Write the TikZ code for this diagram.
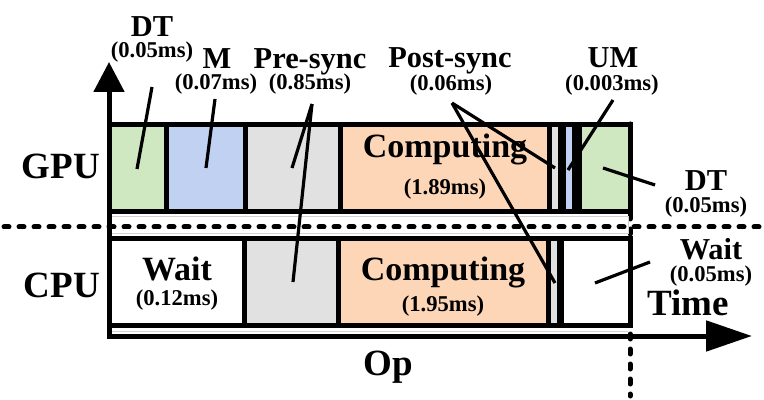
\documentclass[tikz,border=0pt]{standalone}
\usepackage{fontspec}
\setmainfont{Liberation Serif}
\usepackage{tikz}
\usetikzlibrary{arrows.meta}

\definecolor{dtgreen}{HTML}{D0E8C2}
\definecolor{mblue}{HTML}{C0D1F2}
\definecolor{syncgray}{HTML}{E1E1E1}
\definecolor{comporange}{HTML}{FCD6B6}

\newcommand{\axfont}{\fontsize{18.5}{20}\selectfont\bfseries}
\newcommand{\bigfont}{\fontsize{17}{18}\selectfont\bfseries}
\newcommand{\lblfont}{\fontsize{15.2}{16}\selectfont\bfseries}
\newcommand{\valfont}{\fontsize{11.3}{12}\selectfont\bfseries}

\begin{document}
\begin{tikzpicture}[x=0.5pt, y=-0.5pt,
    blk/.style={rectangle, draw, line width=2.5pt, minimum height=43.5pt, inner sep=0pt, outer sep=0pt},
    lead/.style={line width=1.6pt},
    axlab/.style={anchor=base, inner sep=0pt, font=\axfont},
    big/.style={anchor=base, inner sep=0pt, font=\bigfont},
    lbl/.style={anchor=base, inner sep=0pt, font=\lblfont},
    val/.style={anchor=base, inner sep=0pt, font=\valfont},
    dots/.style={line width=2.5pt, line cap=round, dash pattern=on 2.5pt off 5pt}]
    \useasboundingbox (0,0) rectangle (764,400);

    % Points
    \coordinate (origin) at (109,336);
    \coordinate (ytip) at (109,62);
    \coordinate (xtip) at (752,336);
    \coordinate (endtop) at (630,124);
    \coordinate (endbot) at (630,396);
    \coordinate (sepl) at (4,227);
    \coordinate (sepr) at (764,227);

    % End of run, and the line between GPU and CPU
    \draw[dots] (endtop) -- (endbot);
    \draw[gray!35, line width=0.4pt] (111,216.5) rectangle (628,233.5);
    \draw[gray!35, line width=0.4pt] (111,331) -- (628,331);

    % GPU row
    \node (gdt) [blk, fill=dtgreen, minimum width=28.5pt] at (138,168) {};
    \node (gm) [blk, fill=mblue, minimum width=39.25pt] at (205.75,168) {};
    \node (gpre) [blk, fill=syncgray, minimum width=47.5pt] at (292.5,168) {};
    \node (gcomp) [blk, fill=comporange, minimum width=104.5pt] at (444.5,168) {};
    \node (gpost) [blk, fill=syncgray, minimum width=5.5pt] at (554.5,168) {};
    \node (gum) [blk, fill=mblue, minimum width=5.5pt] at (569,168) {};
    \node (gdt2) [blk, fill=dtgreen, minimum width=25.25pt] at (604.75,168) {};

    % CPU row
    \node (cwait) [blk, fill=white, minimum width=67.5pt] at (177,282) {};
    \node (cpre) [blk, fill=syncgray, minimum width=46.75pt] at (291.25,282) {};
    \node (ccomp) [blk, fill=comporange, minimum width=105pt] at (443,282) {};
    \node (cpost) [blk, fill=syncgray, minimum width=5.75pt] at (553.75,282) {};
    \node (cwait2) [blk, fill=white, minimum width=34.5pt] at (595.5,282) {};

    % Axes
    \draw[line width=2.5pt, line cap=rect, -{Triangle[length=15pt, width=15pt]}] (origin) -- (ytip);
    \draw[line width=2.5pt, line cap=rect, -{Triangle[length=23pt, width=15pt]}] (origin) -- (xtip);
    \draw[dots] (sepl) -- (sepr);

    % Texts
    \node (gpulab) [axlab] at (61,179) {GPU};
    \node (cpulab) [axlab] at (62,298) {CPU};
    \node (timelab) [axlab] at (688,315) {Time};
    \node (oplab) [axlab] at (388,375) {Op};

    \node (dtlab) [lbl] at (152,37) {DT};
    \node (dtval) [val] at (152,58) {(0.05ms)};
    \node (mlab) [lbl] at (217,69) {M};
    \node (mval) [val] at (216,90) {(0.07ms)};
    \node (prelab) [lbl] at (310,69) {Pre-sync};
    \node (preval) [val] at (310,90) {(0.85ms)};
    \node (postlab) [lbl] at (450,68) {Post-sync};
    \node (postval) [val] at (451,91) {(0.06ms)};
    \node (umlab) [lbl] at (613,68) {UM};
    \node (umval) [val] at (612,91) {(0.003ms)};
    \node (gcomplab) [big] at (445,158) {Computing};
    \node (gcompval) [val] at (445,195) {(1.89ms)};
    \node (dt2lab) [lbl] at (706,191) {DT};
    \node (dt2val) [val] at (706,213) {(0.05ms)};

    \node (cwaitlab) [big] at (177,280) {Wait};
    \node (cwaitval) [val] at (177,306) {(0.12ms)};
    \node (ccomplab) [big] at (443,280) {Computing};
    \node (ccompval) [val] at (443,312) {(1.95ms)};
    \node (wait2lab) [lbl] at (711,260) {Wait};
    \node (wait2val) [val] at (711,282) {(0.05ms)};

    % Leader ends
    \coordinate (dtfrom) at (152,87);
    \coordinate (dtto) at (137,169);
    \coordinate (mfrom) at (215,99);
    \coordinate (mto) at (206,168);
    \coordinate (prefrom) at (312,104);
    \coordinate (pretog) at (292,168);
    \coordinate (pretoc) at (293,282);
    \coordinate (postfrom) at (452,103);
    \coordinate (posttog) at (555,168);
    \coordinate (posttoc) at (555,283);
    \coordinate (umfrom) at (613,100);
    \coordinate (umto) at (568,170);
    \coordinate (dt2from) at (655,185);
    \coordinate (dt2to) at (603,168);
    \coordinate (wait2from) at (650,262);
    \coordinate (wait2to) at (595,283);

    % Leaders
    \draw[lead] (dtfrom) -- (dtto);
    \draw[lead] (mfrom) -- (mto);
    \draw[lead] (prefrom) -- (pretog);
    \draw[lead] (prefrom) -- (pretoc);
    \draw[lead] (postfrom) -- (posttog);
    \draw[lead] (postfrom) -- (posttoc);
    \draw[lead] (umfrom) -- (umto);
    \draw[lead] (dt2from) -- (dt2to);
    \draw[lead] (wait2from) -- (wait2to);
\end{tikzpicture}
\end{document}
